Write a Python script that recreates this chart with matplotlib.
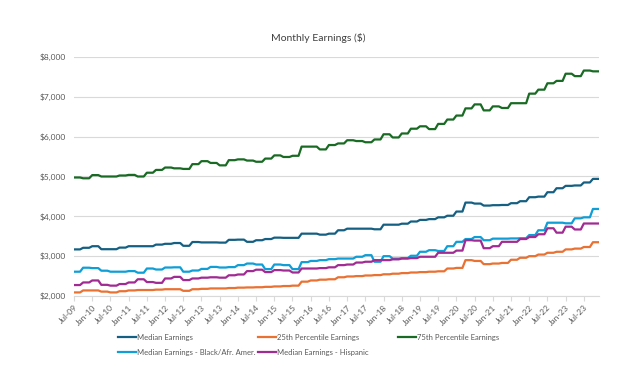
import numpy as np
import matplotlib.pyplot as plt
from matplotlib.lines import Line2D

# quarterly values, Q3 2009 .. Q4 2023 (drawn as monthly points)
median = [3170, 3210, 3250, 3175, 3175, 3215, 3250, 3250, 3250, 3290,
          3310, 3330, 3260, 3355, 3345, 3345, 3340, 3410, 3415, 3360,
          3400, 3430, 3465, 3460, 3460, 3565, 3565, 3540, 3565, 3650,
          3690, 3690, 3690, 3675, 3790, 3790, 3815, 3870, 3910, 3930,
          3975, 4015, 4120, 4345, 4320, 4270, 4280, 4285, 4330, 4380,
          4480, 4495, 4605, 4705, 4765, 4775, 4850, 4940]
p25 = [2090, 2140, 2140, 2110, 2090, 2120, 2140, 2150, 2150, 2160,
       2170, 2170, 2130, 2170, 2180, 2190, 2190, 2200, 2210, 2215,
       2220, 2230, 2240, 2250, 2260, 2360, 2390, 2410, 2420, 2470,
       2490, 2500, 2515, 2525, 2545, 2560, 2575, 2590, 2600, 2610,
       2620, 2690, 2705, 2900, 2880, 2800, 2815, 2830, 2910, 2960,
       3000, 3040, 3085, 3110, 3170, 3190, 3230, 3350]
p75 = [4975, 4955, 5035, 5000, 5000, 5025, 5040, 5000, 5095, 5165,
       5225, 5205, 5190, 5310, 5385, 5340, 5280, 5410, 5430, 5400,
       5370, 5450, 5530, 5490, 5520, 5750, 5750, 5680, 5790, 5830,
       5910, 5890, 5860, 5930, 6060, 5980, 6080, 6200, 6260, 6190,
       6320, 6430, 6530, 6710, 6810, 6660, 6760, 6720, 6840, 6840,
       7080, 7180, 7340, 7400, 7580, 7520, 7660, 7640]
black = [2610, 2710, 2700, 2635, 2610, 2610, 2625, 2585, 2690, 2665,
         2715, 2720, 2610, 2640, 2680, 2730, 2715, 2725, 2775, 2815,
         2790, 2675, 2790, 2775, 2675, 2850, 2880, 2900, 2925, 2940,
         2940, 2985, 3025, 2860, 3000, 2940, 2950, 3010, 3110, 3150,
         3130, 3250, 3360, 3430, 3480, 3400, 3440, 3440, 3445, 3450,
         3530, 3650, 3840, 3840, 3825, 3950, 3975, 4185]
hispanic = [2275, 2340, 2390, 2280, 2260, 2300, 2340, 2420, 2350, 2330,
            2440, 2480, 2400, 2440, 2460, 2470, 2460, 2520, 2540, 2625,
            2660, 2600, 2650, 2640, 2590, 2690, 2690, 2700, 2720, 2775,
            2790, 2840, 2860, 2900, 2900, 2920, 2940, 2950, 2985, 2985,
            3085, 3085, 3140, 3400, 3390, 3200, 3250, 3360, 3360, 3430,
            3480, 3550, 3700, 3590, 3740, 3670, 3820, 3820]

tick_labels = ['Jul-09', 'Jan-10', 'Jul-10', 'Jan-11', 'Jul-11', 'Jan-12',
               'Jul-12', 'Jan-13', 'Jul-13', 'Jan-14', 'Jul-14', 'Jan-15',
               'Jul-15', 'Jan-16', 'Jul-16', 'Jan-17', 'Jul-17', 'Jan-18',
               'Jul-18', 'Jan-19', 'Jul-19', 'Jan-20', 'Jul-20', 'Jan-21',
               'Jul-21', 'Jan-22', 'Jul-22', 'Jan-23', 'Jul-23']

series = [
    ('Median Earnings', median, '#156082'),
    ('25th Percentile Earnings', p25, '#E97132'),
    ('75th Percentile Earnings', p75, '#196B24'),
    ('Median Earnings - Black/Afr. Amer.', black, '#0F9ED5'),
    ('Median Earnings - Hispanic', hispanic, '#A02B93'),
]

plt.rcParams['font.family'] = ['Lato', 'DejaVu Sans']

fig = plt.figure(figsize=(6.34, 3.73), dpi=100)
ax = fig.add_axes([74/634, 1-296/373, (599-74)/634, (296-57)/373])

n_months = len(median) * 3
x = np.arange(n_months)
for name, vals, col in series:
    ax.plot(x, np.repeat(vals, 3), color=col, lw=1.6, label=name,
            solid_joinstyle='round', zorder=3)

ax.set_xlim(0, n_months - 1)
ax.set_ylim(2000, 8000)
ax.set_yticks(range(2000, 8001, 1000))
ax.set_yticklabels(['${:,}'.format(v) for v in range(2000, 8001, 1000)])
ax.set_xticks(np.arange(len(tick_labels)) * 6)
ax.set_xticklabels(tick_labels, rotation=45, ha='right',
                   rotation_mode='anchor')

ax.grid(axis='y', color='#d9d9d9', lw=0.8)
ax.set_axisbelow(True)
for s in ['top', 'right', 'left']:
    ax.spines[s].set_visible(False)
ax.spines['bottom'].set_color('#d9d9d9')
ax.spines['bottom'].set_linewidth(0.8)
ax.tick_params(axis='y', length=0, labelsize=6, labelcolor='#595959', pad=6)
ax.tick_params(axis='x', length=3.5, color='#d9d9d9', labelsize=6,
               labelcolor='#595959', pad=2)

fig.text(0.5015, 1-38/373, 'Monthly Earnings ($)', ha='center', va='center',
         fontsize=7.5, color='#404040')

# legend in three equal-width columns like the original
cols = [[0, 3], [1, 4], [2]]
xs = [118, 258, 398]
for idx, x0 in zip(cols, xs):
    handles = [Line2D([], [], color=series[i][2], lw=1.6) for i in idx]
    labels = [series[i][0] for i in idx]
    leg = fig.legend(handles, labels, loc='upper left',
                     bbox_to_anchor=(x0/634, 1-334/373), frameon=False,
                     fontsize=5.5, handlelength=2.3, handletextpad=0.15,
                     borderpad=0, borderaxespad=0, labelspacing=1.0,
                     labelcolor='#595959')

fig.savefig('out.png', dpi=100)
